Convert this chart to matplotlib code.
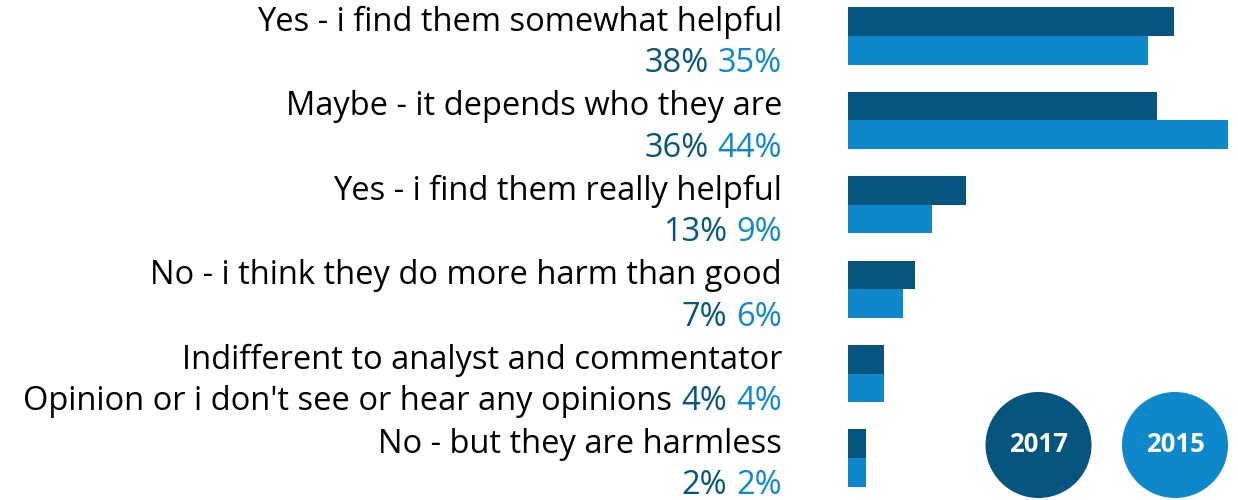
import matplotlib
matplotlib.use("Agg")
import matplotlib.pyplot as plt
from matplotlib.patches import Circle
import matplotlib.transforms as mtransforms

## Data
labels = [
    "Yes - i find them somewhat helpful",
    "Maybe - it depends who they are",
    "Yes - i find them really helpful",
    "No - i think they do more harm than good",
    "Indifferent to analyst and commentator",
    "No - but they are harmless",
]
second_line = ["", "", "", "", "Opinion or i don't see or hear any opinions", ""]
pct_2017 = ["38%", "36%", "13%", "7%", "4%", "2%"]
pct_2015 = ["35%", "44%", "9%", "6%", "4%", "2%"]
vals_2017 = [37.8, 35.8, 13.7, 7.8, 4.2, 2.1]
vals_2015 = [34.7, 44.0, 9.7, 6.4, 4.2, 2.1]
years = ["2017", "2015"]

dark = "#05557F"
light = "#0E88CB"

plt.rcParams['font.family'] = ['Open Sans', 'DejaVu Sans']

W, H = 1238, 500
fig = plt.figure(figsize=(W / 100, H / 100), dpi=100)

## bar axes
ax = fig.add_axes([848 / W, 0, (1228 - 848) / W, 1])
ax.set_xlim(0, max(vals_2015 + vals_2017))
ax.set_ylim(5.4976, -0.4265)
ax.axis('off')

bh = 0.34
ys = list(range(len(labels)))
ax.barh([y - bh / 2 for y in ys], vals_2017, height=bh, color=dark, linewidth=0)
ax.barh([y + bh / 2 for y in ys], vals_2015, height=bh, color=light, linewidth=0)

## labels
trans = mtransforms.blended_transform_factory(fig.transFigure, ax.transData)
xr = 782 / W
fs = 23.5
gap = -6.6
for i, lab in enumerate(labels):
    ax.text(xr, i - 0.16, lab, transform=trans, ha='right', va='center',
            fontsize=fs, color='black', clip_on=False)
    t15 = ax.text(xr, i + 0.33, pct_2015[i], transform=trans, ha='right',
                  va='center', fontsize=fs, color=light, clip_on=False)
    t17 = ax.annotate(pct_2017[i], xy=(0, 0.5), xycoords=t15,
                      xytext=(gap, 0), textcoords='offset points',
                      ha='right', va='center', fontsize=fs, color=dark)
    if second_line[i]:
        ax.annotate(second_line[i], xy=(0, 0.5), xycoords=t17,
                    xytext=(gap, 0), textcoords='offset points',
                    ha='right', va='center', fontsize=fs, color='black')

## legend circles
lax = fig.add_axes([0, 0, 1, 1])
lax.set_xlim(0, W)
lax.set_ylim(H, 0)
lax.axis('off')
for cx, yr, c in zip([1038.5, 1175], years, [dark, light]):
    lax.add_patch(Circle((cx, 445), 53, color=c, linewidth=0))
    lax.text(cx, 445, yr, ha='center', va='center', color='white',
             fontsize=18.5, fontweight='bold')

fig.savefig("out.png", dpi=100)
